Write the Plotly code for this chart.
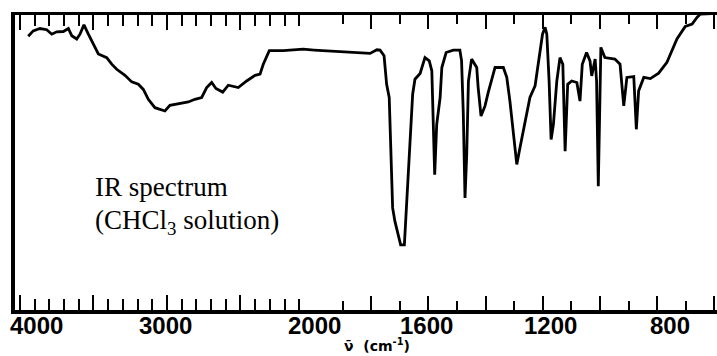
import numpy as np
import plotly.graph_objects as go

# wavenumber (cm-1) and transmittance (% of frame height)
wavenumber = [3944, 3910, 3864, 3818, 3784, 3750, 3705, 3671, 3648, 3614, 3592, 3565, 3535, 3501,
              3467, 3410, 3376, 3342, 3286, 3240, 3195, 3161, 3127, 3082, 3014, 2980, 2912, 2855,
              2810, 2764, 2730, 2696, 2667, 2621, 2583, 2549, 2515, 2458, 2401, 2367, 2345, 2304,
              2209, 2073, 2000,
              1956, 1850, 1804, 1780, 1769, 1755, 1746, 1737, 1732, 1725, 1717, 1705, 1697, 1684,
              1676, 1664, 1655, 1647, 1629, 1612, 1597, 1588, 1583, 1578, 1571, 1559, 1553, 1538,
              1513, 1490, 1484, 1478, 1472, 1466, 1460, 1449, 1431, 1426, 1416, 1402, 1391, 1367,
              1338, 1326, 1315, 1303, 1291, 1280, 1262, 1245, 1227, 1210, 1201, 1192, 1186, 1178,
              1171, 1163, 1151, 1140, 1130, 1122, 1113, 1099, 1081, 1070, 1062, 1047, 1035, 1029,
              1017, 1012, 1006, 997, 983, 948, 930, 917, 906, 882, 873, 865, 847, 824, 795, 766,
              731, 702, 678, 661, 649, 600]
transmittance = [91.9, 93.7, 94.5, 94.1, 92.6, 93.4, 93.5, 94.5, 92.1, 91.0, 92.6, 95.7, 92.6, 89.3,
                 86.0, 84.8, 82.6, 80.9, 78.9, 76.7, 75.9, 74.2, 70.9, 68.1, 67.0, 68.9, 69.6, 70.0,
                 70.9, 71.5, 74.8, 76.5, 74.5, 73.3, 75.6, 75.2, 74.8, 77.0, 78.9, 79.3, 82.6, 87.1,
                 87.1, 87.6, 87.3,
                 87.1, 86.5, 86.2, 87.4, 87.3, 85.4, 75.9, 71.5, 54.7, 34.7, 30.2, 25.8, 22.4, 22.4,
                 36.9, 60.3, 72.6, 77.6, 79.5, 84.8, 83.7, 80.4, 62.5, 45.8, 62.5, 71.5, 81.5, 86.5,
                 87.3, 87.3, 83.7, 66.2, 38.0, 52.5, 77.0, 84.3, 81.5, 74.8, 65.3, 68.7, 73.1, 81.5,
                 81.5, 78.2, 70.3, 60.3, 49.2, 54.7, 63.6, 71.5, 75.4, 86.0, 92.6, 94.9, 92.6, 77.0,
                 57.5, 62.5, 77.0, 84.8, 82.6, 53.6, 75.9, 77.0, 76.5, 70.3, 82.6, 86.5, 83.7, 78.7,
                 84.3, 77.0, 41.9, 88.2, 84.8, 84.3, 82.6, 68.7, 78.2, 78.5, 60.9, 73.7, 78.2, 77.8,
                 79.6, 83.2, 91.0, 95.2, 96.0, 98.2, 99.3, 99.5]

label_values = [4000, 3000, 2000, 1600, 1200, 800]
label_shift = [-12, -1, 1, -2, 8, 13]
label_anchor = ["left", "center", "center", "center", "center", "center"]

wn = np.array(wavenumber, dtype=float)
tr = np.array(transmittance, dtype=float)
hi = wn >= 2000
lo = wn <= 2000

fig = go.Figure()
line = dict(color="black", width=2.8)
fig.add_trace(go.Scatter(x=wn[hi], y=tr[hi], mode="lines", line=line, xaxis="x", yaxis="y",
                         showlegend=False, hoverinfo="skip"))
fig.add_trace(go.Scatter(x=wn[lo], y=tr[lo], mode="lines", line=line, xaxis="x2", yaxis="y",
                         showlegend=False, hoverinfo="skip"))

split = 0.4259
common = dict(showline=True, linecolor="black", linewidth=3.5, mirror="allticks",
              ticks="inside", tickcolor="black", tickwidth=2, showgrid=False,
              zeroline=False, showticklabels=False)
fig.update_layout(
    width=717, height=356,
    margin=dict(l=15, r=0, t=15, b=46),
    paper_bgcolor="white", plot_bgcolor="white",
    xaxis=dict(domain=[0, split], range=[4034, 2000], anchor="y",
               tickmode="linear", tick0=4000, dtick=500, ticklen=15,
               minor=dict(dtick=100, tick0=4000, ticklen=11, tickwidth=2, ticks="inside",
                          tickcolor="black", showgrid=False),
               **common),
    xaxis2=dict(domain=[split, 1], range=[2000, 591], anchor="y",
                tickmode="linear", tick0=2000, dtick=200, ticklen=14,
                minor=dict(dtick=100, tick0=2000, ticklen=9, tickwidth=2, ticks="inside",
                           tickcolor="black", showgrid=False),
                **common),
    yaxis=dict(domain=[0, 1], range=[0.67, 99.0], showline=True, linecolor="black",
               linewidth=4, mirror=False, showticklabels=False, ticks="",
               showgrid=False, zeroline=False),
)

ann = []
for v, s, a in zip(label_values, label_shift, label_anchor):
    ax = "x" if v >= 2000 else "x2"
    ann.append(dict(x=v, y=0, xref=ax, yref="paper", text=str(v), showarrow=False,
                    xanchor=a, yanchor="middle", xshift=s, yshift=-15,
                    font=dict(family="Liberation Sans", size=24, color="black", weight="bold")))
ann.append(dict(x=2000, y=0, xref="x2", yref="paper", text="ν\u0304  (cm<sup>-1</sup>)",
                showarrow=False, xanchor="left", yanchor="middle", xshift=28, yshift=-35,
                font=dict(family="DejaVu Sans", size=14, color="black", weight="bold")))
ann.append(dict(x=0.111, y=0.418, xref="paper", yref="paper", text="IR spectrum",
                showarrow=False, xanchor="left", yanchor="middle",
                font=dict(family="Liberation Serif", size=27, color="black")))
ann.append(dict(x=0.111, y=0.30, xref="paper", yref="paper", text="(CHCl<sub>3</sub> solution)",
                showarrow=False, xanchor="left", yanchor="middle",
                font=dict(family="Liberation Serif", size=27, color="black")))
fig.update_layout(annotations=ann)

fig.write_html("out.html", config={"displayModeBar": False, "staticPlot": True},
               post_script="document.body.style.margin='0';document.body.style.overflow='hidden';")
